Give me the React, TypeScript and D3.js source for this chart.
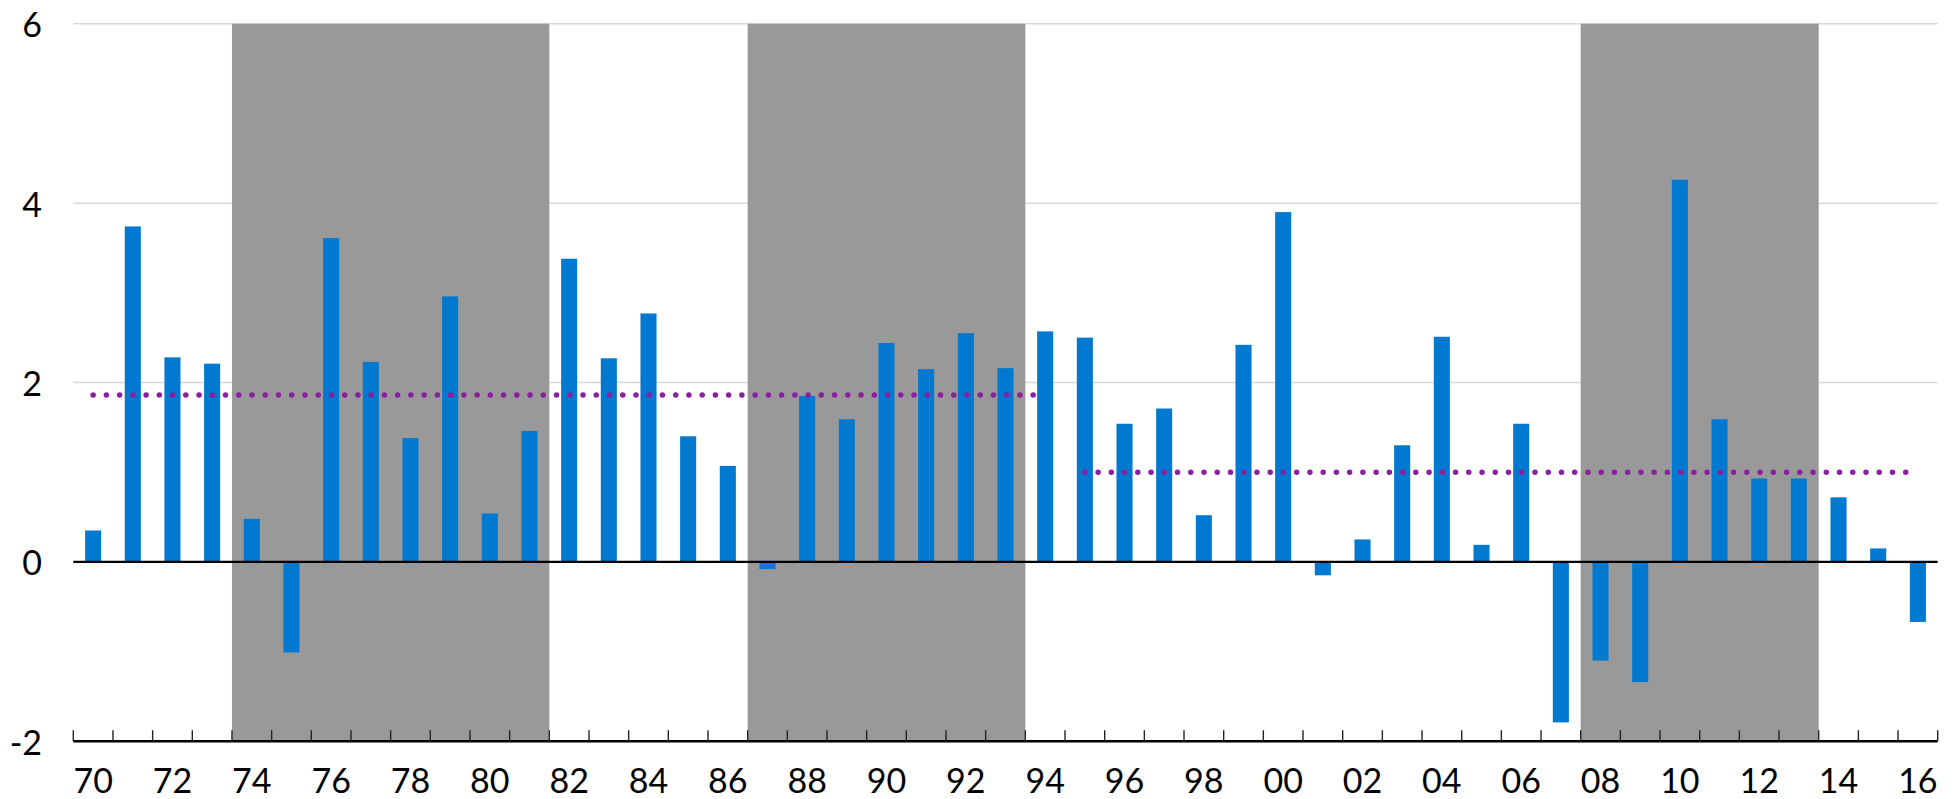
import React from "react";
import * as d3 from "d3";

const years: number[] = d3.range(1970, 2017);
const values: number[] = [
  0.35, 3.74, 2.28, 2.21, 0.48, -1.01, 3.61, 2.23, 1.38, 2.96,
  0.54, 1.46, 3.38, 2.27, 2.77, 1.4, 1.07, -0.08, 1.85, 1.59,
  2.44, 2.15, 2.55, 2.16, 2.57, 2.5, 1.54, 1.71, 0.52, 2.42,
  3.9, -0.15, 0.25, 1.3, 2.51, 0.19, 1.54, -1.79, -1.1, -1.34,
  4.26, 1.59, 0.93, 0.93, 0.72, 0.15, -0.67,
];
const yTicks: number[] = [-2, 0, 2, 4, 6];
const shadedPeriods: [number, number][] = [
  [1974, 1981],
  [1987, 1993],
  [2008, 2013],
];
const averageStarts: number[] = [1970, 1995];
const averageEnds: number[] = [1994, 2016];
const averageValues: number[] = [1.86, 1.0];

const W = 1959;
const H = 799;
const X0 = 73.3;
const X1 = 1937.7;
const FONT = "Lato, 'Open Sans', sans-serif";

export default function App() {
  const x = d3.scaleBand<number>().domain(years).range([X0, X1]).padding(0);
  const y = d3.scaleLinear().domain([-2, 6]).range([741.25, 23.75]);
  const bw = x.bandwidth();
  const barW = bw * 0.405;
  const cx = (yr: number) => (x(yr) as number) + bw / 2;

  return (
    <svg
      width={W}
      height={H}
      style={{ position: "absolute", left: 0, top: 0, background: "#fff" }}
    >
      {yTicks
        .filter((t) => t > 0)
        .map((t) => (
          <line
            key={"g" + t}
            x1={X0}
            x2={X1}
            y1={y(t)}
            y2={y(t)}
            stroke="#d9d9d9"
            strokeWidth={1.5}
          />
        ))}
      {shadedPeriods.map(([a, b]) => (
        <rect
          key={"s" + a}
          x={x(a) as number}
          y={y(6)}
          width={(x(b) as number) + bw - (x(a) as number)}
          height={y(-2) - y(6)}
          fill="#999999"
        />
      ))}
      {years.map((yr, i) => {
        const v = values[i];
        return (
          <rect
            key={"b" + yr}
            x={cx(yr) - barW / 2}
            y={Math.min(y(v), y(0))}
            width={barW}
            height={Math.abs(y(v) - y(0))}
            fill="#0179d0"
          />
        );
      })}
      <line x1={X0} x2={X1} y1={y(0)} y2={y(0)} stroke="#000" strokeWidth={2.4} />
      <line x1={X0} x2={X1} y1={y(-2)} y2={y(-2)} stroke="#000" strokeWidth={2.4} />
      {d3.range(years.length + 1).map((k) => {
        const tx = X0 + k * bw;
        return (
          <line
            key={"t" + k}
            x1={tx}
            x2={tx}
            y1={y(-2)}
            y2={y(-2) - 11}
            stroke="#222"
            strokeWidth={1.4}
          />
        );
      })}
      {averageValues.map((v, i) => (
        <line
          key={"a" + i}
          x1={cx(averageStarts[i])}
          x2={cx(averageEnds[i])}
          y1={y(v)}
          y2={y(v)}
          stroke="#8a1fa0"
          strokeWidth={5.5}
          strokeLinecap="round"
          strokeDasharray="0 13.24"
        />
      ))}
      {yTicks.map((t) => (
        <text
          key={"yl" + t}
          x={42}
          y={y(t)}
          textAnchor="end"
          dominantBaseline="central"
          fontFamily={FONT}
          fontSize={34}
          fill="#000"
        >
          {t}
        </text>
      ))}
      {years
        .filter((yr) => yr % 2 === 0)
        .map((yr) => (
          <text
            key={"xl" + yr}
            x={cx(yr)}
            y={793}
            textAnchor="middle"
            fontFamily={FONT}
            fontSize={34}
            fill="#000"
          >
            {String(yr % 100).padStart(2, "0")}
          </text>
        ))}
    </svg>
  );
}
